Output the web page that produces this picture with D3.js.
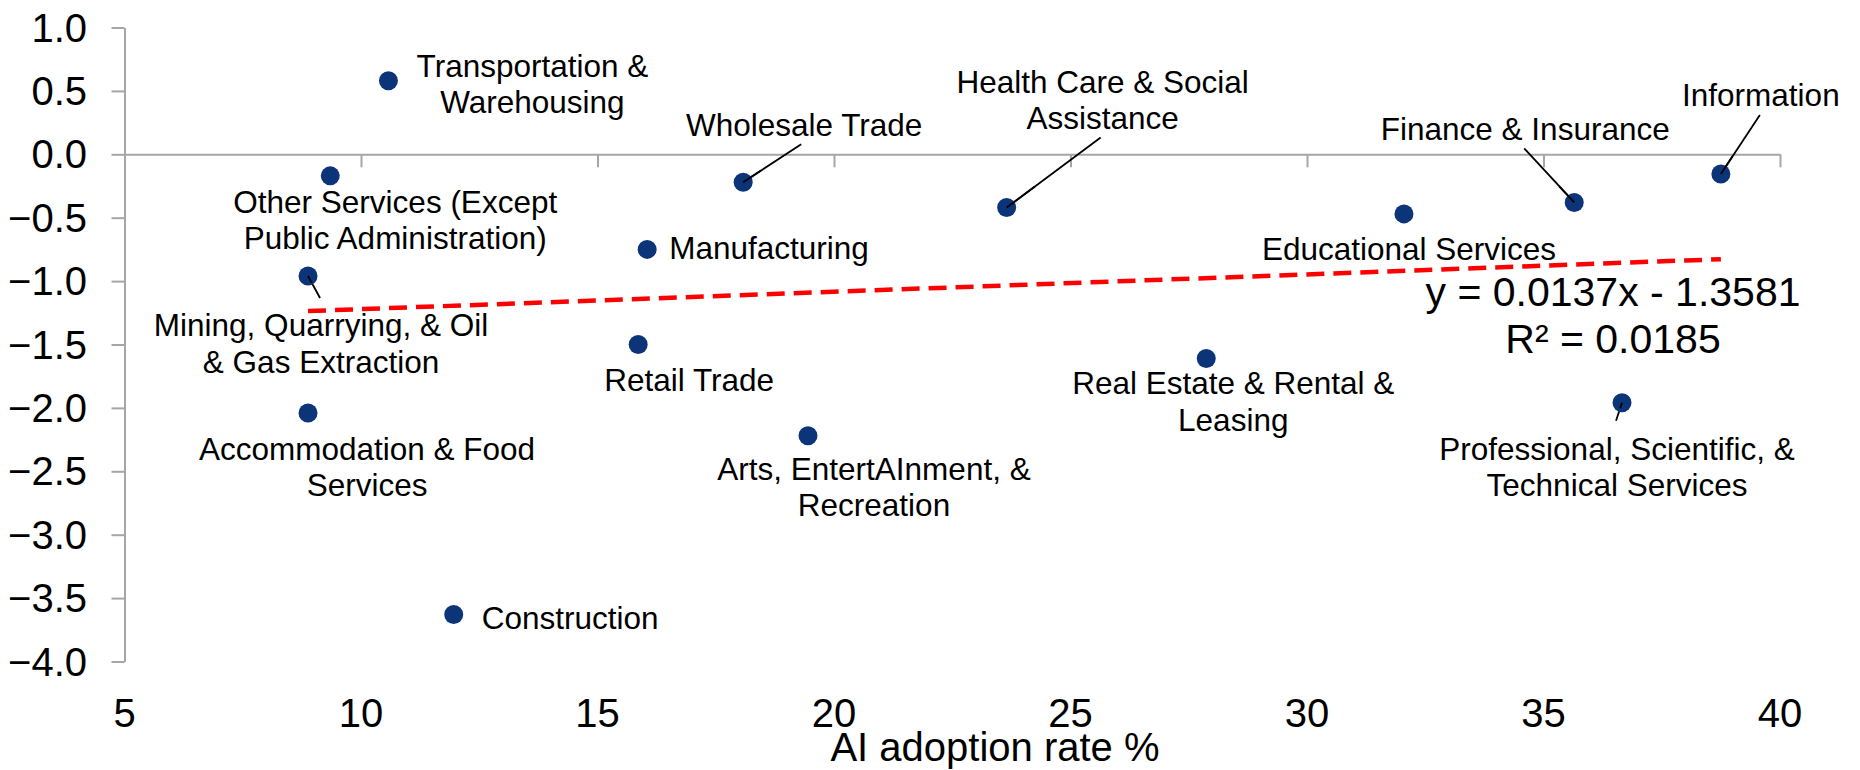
<!DOCTYPE html>
<html>
<head>
<meta charset="utf-8">
<script src="https://cdn.jsdelivr.net/npm/d3@7"></script>
<style>
  html, body { margin: 0; padding: 0; background: #fff; }
  svg text { font-family: "Liberation Sans", Arial, sans-serif; fill: #000; }
</style>
</head>
<body>
<div id="chart"></div>
<script>
// industries and their values
var industries = [
  "Transportation & Warehousing",
  "Other Services (Except Public Administration)",
  "Mining, Quarrying, & Oil & Gas Extraction",
  "Accommodation & Food Services",
  "Construction",
  "Manufacturing",
  "Retail Trade",
  "Wholesale Trade",
  "Arts, EntertAInment, & Recreation",
  "Health Care & Social Assistance",
  "Real Estate & Rental & Leasing",
  "Educational Services",
  "Finance & Insurance",
  "Professional, Scientific, & Technical Services",
  "Information"
];
var adoption = [10.58, 9.35, 8.88, 8.88, 11.96, 16.05, 15.86, 18.08, 19.45, 23.65, 27.87, 32.05, 35.65, 36.66, 38.75];
var change   = [0.58, -0.17, -0.96, -2.04, -3.63, -0.75, -1.50, -0.22, -2.22, -0.42, -1.61, -0.47, -0.38, -1.96, -0.155];

var xTicks = [5, 10, 15, 20, 25, 30, 35, 40];
var yTicks = [1, 0.5, 0, -0.5, -1, -1.5, -2, -2.5, -3, -3.5, -4];

// trendline as printed on the chart
var slope = 0.0137, intercept = -1.3581, r2 = 0.0185;

// label layout: text lines, anchor, offset from point, optional leader end
var labelLayout = [
  {lines: ["Transportation &", "Warehousing"], anchor: "middle", dx: 144, dy: -4},
  {lines: ["Other Services (Except", "Public Administration)"], anchor: "middle", dx: 65, dy: 37},
  {lines: ["Mining, Quarrying, & Oil", "& Gas Extraction"], anchor: "middle", dx: 13, dy: 60, leader: [12, 22]},
  {lines: ["Accommodation & Food", "Services"], anchor: "middle", dx: 59, dy: 47},
  {lines: ["Construction"], anchor: "start", dx: 28, dy: 14},
  {lines: ["Manufacturing"], anchor: "start", dx: 22, dy: 10},
  {lines: ["Retail Trade"], anchor: "middle", dx: 51, dy: 46},
  {lines: ["Wholesale Trade"], anchor: "middle", dx: 61, dy: -46, leader: [58, -38]},
  {lines: ["Arts, EntertAInment, &", "Recreation"], anchor: "middle", dx: 66, dy: 44},
  {lines: ["Health Care & Social", "Assistance"], anchor: "middle", dx: 96, dy: -115, leader: [94, -70]},
  {lines: ["Real Estate & Rental &", "Leasing"], anchor: "middle", dx: 27, dy: 36},
  {lines: ["Educational Services"], anchor: "middle", dx: 5, dy: 46},
  {lines: ["Finance & Insurance"], anchor: "middle", dx: -49, dy: -62, leader: [-50, -54]},
  {lines: ["Professional, Scientific, &", "Technical Services"], anchor: "middle", dx: -5, dy: 57, leader: [-6, 18]},
  {lines: ["Information"], anchor: "middle", dx: 40, dy: -68, leader: [39, -59]}
];

var width = 1860, height = 770;
var svg = d3.select("#chart").append("svg")
  .attr("width", width)
  .attr("height", height);

var x = d3.scaleLinear().domain([5, 40]).range([124.5, 1780]);
var y = d3.scaleLinear().domain([-4, 1]).range([661.5, 27.5]);

var axisColor = "#a6a6a6";

// y axis
var yAxis = svg.append("g")
  .attr("transform", "translate(" + x(5) + ",0)")
  .call(d3.axisLeft(y).tickValues(yTicks).tickSize(13).tickSizeOuter(0).tickFormat(""));
// x axis sits at y = 0
var xAxis = svg.append("g")
  .attr("transform", "translate(0," + y(0) + ")")
  .call(d3.axisBottom(x).tickValues(xTicks).tickSize(13).tickSizeOuter(0).tickFormat(""));

[yAxis, xAxis].forEach(function(g) {
  g.select(".domain").attr("stroke", axisColor).attr("stroke-width", 2);
  g.selectAll(".tick line").attr("stroke", axisColor).attr("stroke-width", 2);
});

// y tick labels
svg.append("g").selectAll("text")
  .data(yTicks)
  .enter().append("text")
  .attr("x", 87)
  .attr("y", function(d) { return y(d) + 14; })
  .attr("text-anchor", "end")
  .style("font-size", "40px")
  .text(function(d) { return d3.format(".1f")(d); });

// x tick labels along the bottom
svg.append("g").selectAll("text")
  .data(xTicks)
  .enter().append("text")
  .attr("x", function(d) { return x(d); })
  .attr("y", 727)
  .attr("text-anchor", "middle")
  .style("font-size", "40px")
  .text(function(d) { return d; });

// axis title
svg.append("text")
  .attr("x", 995)
  .attr("y", 761)
  .attr("text-anchor", "middle")
  .style("font-size", "40px")
  .text("AI adoption rate %");

// trendline
var xMin = d3.min(adoption), xMax = d3.max(adoption);
svg.append("line")
  .attr("x1", x(xMin)).attr("y1", y(slope * xMin + intercept))
  .attr("x2", x(xMax)).attr("y2", y(slope * xMax + intercept))
  .attr("stroke", "#ff0000")
  .attr("stroke-width", 4.5)
  .attr("stroke-dasharray", "18,9");

// leader lines
var pts = industries.map(function(name, i) {
  return {name: name, px: x(adoption[i]), py: y(change[i]), lab: labelLayout[i]};
});

svg.append("g").selectAll("line")
  .data(pts.filter(function(d) { return d.lab.leader; }))
  .enter().append("line")
  .attr("x1", function(d) { return d.px; })
  .attr("y1", function(d) { return d.py; })
  .attr("x2", function(d) { return d.px + d.lab.leader[0]; })
  .attr("y2", function(d) { return d.py + d.lab.leader[1]; })
  .attr("stroke", "#000")
  .attr("stroke-width", 1.8);

// points
svg.append("g").selectAll("circle")
  .data(pts)
  .enter().append("circle")
  .attr("cx", function(d) { return d.px; })
  .attr("cy", function(d) { return d.py; })
  .attr("r", 9.5)
  .attr("fill", "#0b3479");

// redraw leader tips over the dots (they cross into the marker in the original)
svg.append("g").selectAll("line")
  .data(pts.filter(function(d) { return d.lab.leader; }))
  .enter().append("line")
  .attr("x1", function(d) { return d.px; })
  .attr("y1", function(d) { return d.py; })
  .attr("x2", function(d) { return d.px + d.lab.leader[0] * 0.3; })
  .attr("y2", function(d) { return d.py + d.lab.leader[1] * 0.3; })
  .attr("stroke", "#000")
  .attr("stroke-width", 1.8);

// labels
var labels = svg.append("g").selectAll("text")
  .data(pts)
  .enter().append("text")
  .attr("text-anchor", function(d) { return d.lab.anchor; })
  .style("font-size", "31.5px");

labels.each(function(d) {
  var t = d3.select(this);
  d.lab.lines.forEach(function(line, k) {
    t.append("tspan")
      .attr("x", d.px + d.lab.dx)
      .attr("y", d.py + d.lab.dy + k * 36.5)
      .text(line);
  });
});

// equation
var eq = svg.append("text")
  .attr("text-anchor", "middle")
  .style("font-size", "41px");
eq.append("tspan").attr("x", 1613).attr("y", 306)
  .text("y = " + slope + "x - " + Math.abs(intercept));
eq.append("tspan").attr("x", 1613).attr("y", 353)
  .text("R\u00b2 = " + r2);
</script>
</body>
</html>
